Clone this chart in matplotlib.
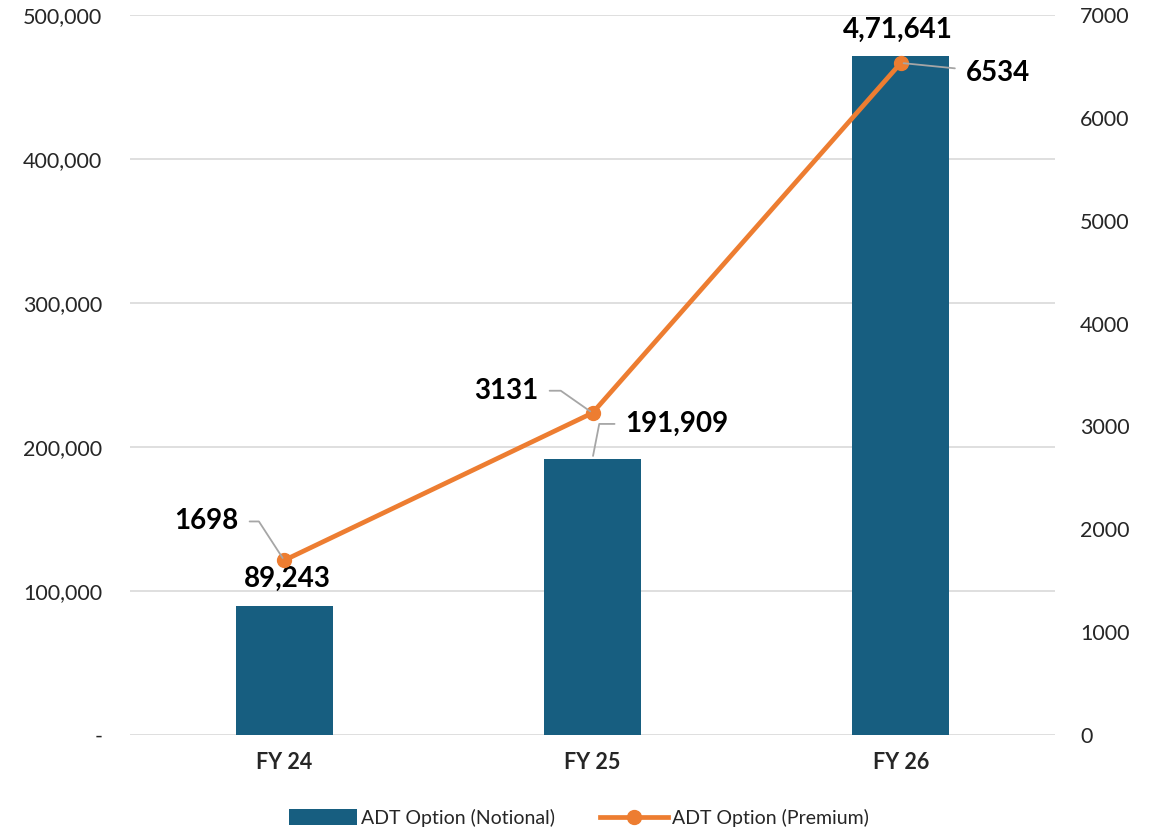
import matplotlib

matplotlib.use("Agg")
import matplotlib.pyplot as plt
from matplotlib.lines import Line2D
from matplotlib.patches import Patch
from matplotlib.ticker import FuncFormatter, MultipleLocator

plt.rcParams["font.family"] = ["Lato", "DejaVu Sans"]

years = ["FY 24", "FY 25", "FY 26"]
notional = [89243, 191909, 471641]
premium = [1698, 3131, 6534]
notional_labels = ["89,243", "191,909", "4,71,641"]
premium_labels = ["1698", "3131", "6534"]

BAR = "#175E80"
ORANGE = "#ED7D31"
GRID = "#D9D9D9"
LEADER = "#A6A6A6"

fig = plt.figure(figsize=(11.58, 8.33), dpi=100)
ax = fig.add_axes([130 / 1158, 1 - 735 / 833, 925 / 1158, 720 / 833])
ax2 = ax.twinx()

x = range(len(years))
ax.bar(x, notional, width=0.315, color=BAR, zorder=2)
ax.set_xlim(-0.5, 2.5)
ax.set_ylim(0, 500000)
ax.yaxis.set_major_locator(MultipleLocator(100000))
ax.yaxis.set_major_formatter(FuncFormatter(lambda v, p: "-" if v == 0 else f"{int(v):,}"))
ax.grid(axis="y", color=GRID, linewidth=1.2, zorder=0)
ax.set_axisbelow(True)
ax.set_xticks(list(x), years, fontsize=14, fontweight="bold")

ax2.plot(x, premium, color=ORANGE, linewidth=3.4, marker="o", markersize=10, zorder=3)
ax2.set_ylim(0, 7000)
ax2.yaxis.set_major_locator(MultipleLocator(1000))

for a in (ax, ax2):
    for s in a.spines.values():
        s.set_visible(False)
    a.tick_params(length=0, labelsize=15.5, colors="#262626")
ax.tick_params(axis="y", pad=20)
ax2.tick_params(axis="y", pad=18)
ax.tick_params(axis="x", pad=12)

lbl = dict(fontsize=20, fontweight="bold", color="black", ha="center", va="center")
leader = dict(arrowstyle="-", color=LEADER, lw=1.3, shrinkA=6, shrinkB=2)

# notional labels
ax.annotate(notional_labels[0], (0, notional[0]), xytext=(2, 20), textcoords="offset points", **lbl)
ax.annotate(notional_labels[2], (2, notional[2]), xytext=(-2, 19), textcoords="offset points", **lbl)
ax.annotate(notional_labels[1], (1, notional[1]), xytext=(61, 25), textcoords="offset points",
            arrowprops=dict(connectionstyle="angle,angleA=0,angleB=79,rad=0", **leader), **lbl)

# premium labels
ax2.annotate(premium_labels[0], (0, premium[0]), xytext=(-56, 28), textcoords="offset points",
             arrowprops=dict(connectionstyle="angle,angleA=0,angleB=123,rad=0", **leader), **lbl)
ax2.annotate(premium_labels[1], (1, premium[1]), xytext=(-62, 16), textcoords="offset points",
             arrowprops=dict(connectionstyle="angle,angleA=0,angleB=145,rad=0", **leader), **lbl)
ax2.annotate(premium_labels[2], (2, premium[2]), xytext=(70, -7), textcoords="offset points",
             arrowprops=dict(connectionstyle="arc3", **leader), **lbl)

handles = [
    Patch(facecolor=BAR, label="ADT Option (Notional)"),
    Line2D([], [], color=ORANGE, linewidth=3.4, marker="o", markersize=10,
           label="ADT Option (Premium)"),
]
fig.legend(handles=handles, loc="center", bbox_to_anchor=(0.5, 1 - 818 / 833), ncol=2,
           frameon=False, fontsize=14, handlelength=3.5, handleheight=0.9,
           columnspacing=2.3, handletextpad=0.2, labelcolor="#262626")

fig.savefig("out.png", dpi=100)
